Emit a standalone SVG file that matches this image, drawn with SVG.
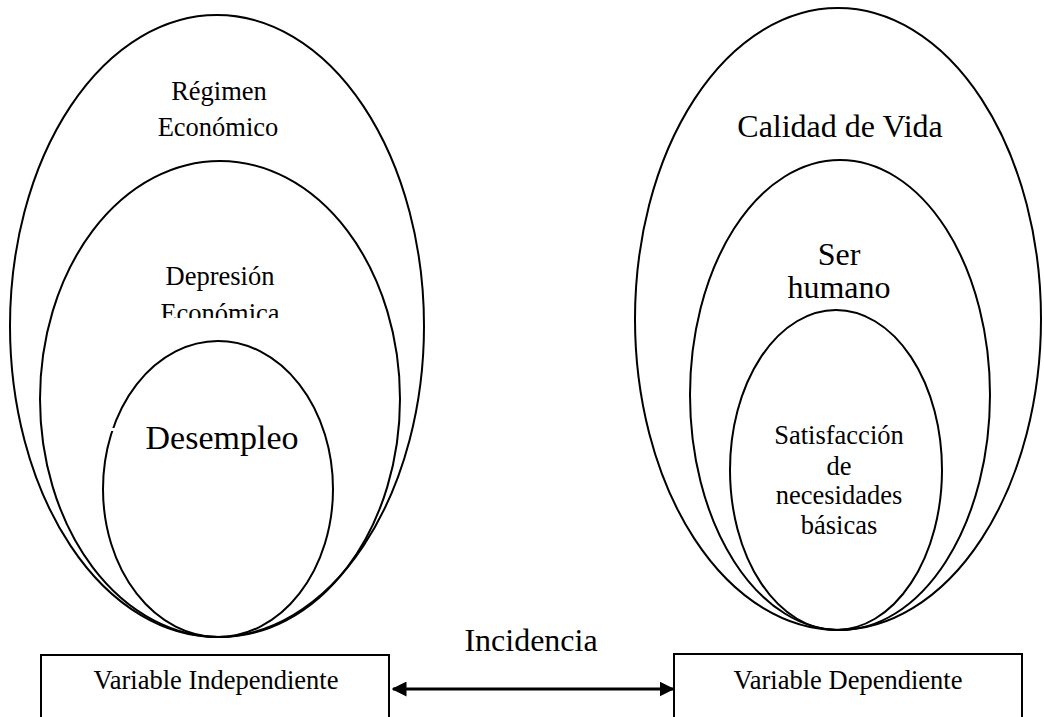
<svg xmlns="http://www.w3.org/2000/svg" width="1044" height="717" viewBox="0 0 1044 717">
<style>
.e{fill:none;stroke:#000;stroke-width:2}
.b{fill:#fff;stroke:#000;stroke-width:2}
.t{font-family:"Liberation Serif","Times New Roman",serif;fill:#000;text-anchor:middle}
.s{font-size:26.5px}
.l{font-size:32px}
.xl{font-size:34px}
</style>
<defs>
<marker id="ah" viewBox="0 0 10 10" refX="9" refY="5" markerWidth="5" markerHeight="5" orient="auto-start-reverse" markerUnits="strokeWidth">
<path d="M0,0 L10,5 L0,10 z" fill="#000"/>
</marker>
<clipPath id="clipEco"><rect x="0" y="0" width="1044" height="318"/></clipPath>
</defs>
<rect width="1044" height="717" fill="#fff"/>
<g id="regimen">
<ellipse class="e" cx="217" cy="326" rx="207" ry="311"/>
<text class="t s" x="219" y="100">Régimen</text>
<text class="t s" x="218" y="136">Económico</text>
</g>
<g id="depresion">
<ellipse class="e" cx="220" cy="399" rx="180" ry="238"/>
<text class="t s" x="220" y="285">Depresión</text>
<text class="t s" x="220" y="322" clip-path="url(#clipEco)">Económica</text>
</g>
<g id="desempleo">
<ellipse class="e" cx="218" cy="489" rx="115" ry="148"/>
<rect x="110" y="428" width="6" height="3" fill="#fff"/>
<text class="t xl" x="222" y="449">Desempleo</text>
</g>
<g id="calidad">
<ellipse class="e" cx="838" cy="319" rx="203" ry="311"/>
<text class="t l" x="840" y="137">Calidad de Vida</text>
</g>
<g id="ser">
<ellipse class="e" cx="840" cy="395" rx="150" ry="235"/>
<text class="t l" x="839" y="265">Ser</text>
<text class="t l" x="839" y="298">humano</text>
</g>
<g id="satisfaccion">
<ellipse class="e" cx="836" cy="470" rx="106" ry="160"/>
<rect x="740" y="405" width="6" height="3" fill="#fff"/>
<text class="t s" x="839" y="444">Satisfacción</text>
<text class="t s" x="839" y="475">de</text>
<text class="t s" x="839" y="504">necesidades</text>
<text class="t s" x="839" y="534">básicas</text>
</g>
<g id="var-indep">
<rect class="b" x="41" y="655" width="348" height="70"/>
<text class="t s" x="216" y="689">Variable Independiente</text>
</g>
<g id="var-dep">
<rect class="b" x="674" y="654" width="348" height="70"/>
<text class="t s" x="848" y="689">Variable Dependiente</text>
</g>
<g id="connectors">
<line x1="393" y1="689" x2="673" y2="689" stroke="#000" stroke-width="3" marker-start="url(#ah)" marker-end="url(#ah)"/>
<text class="t l" x="531" y="651">Incidencia</text>
</g>
</svg>
